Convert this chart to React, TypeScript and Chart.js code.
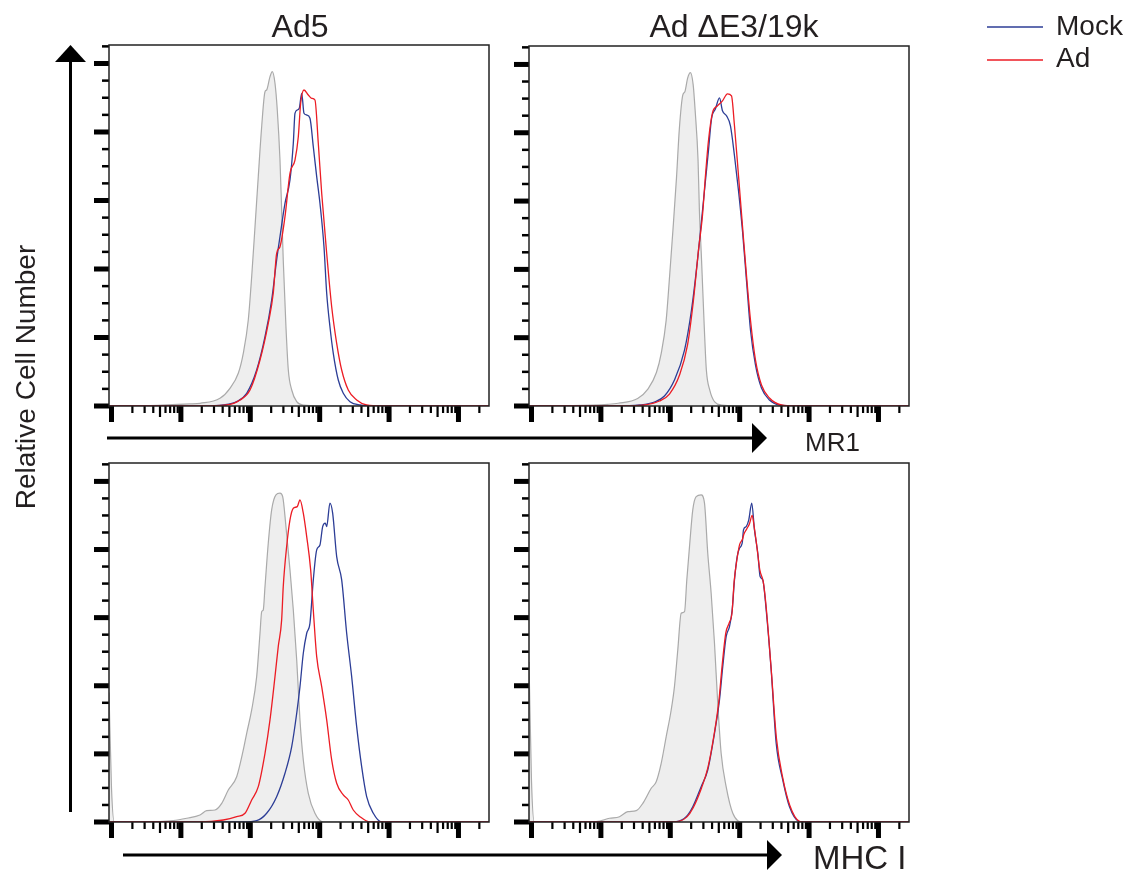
import React, { useEffect, useRef } from 'react';
import { Chart, registerables } from 'chart.js';

Chart.register(...registerables);

// ---------- axis definitions (x = log10 fluorescence decades, y = % of max) ----------
const X_MIN = -0.036;
const X_MAX = 5.44;
const Y_MAX = 105.4;
const decades = [0, 1, 2, 3, 4, 5];
const decadeMultipliers = [1, 2, 3, 4, 5, 6, 7, 8, 9];
const yTickValues = [0, 5, 10, 15, 20, 25, 30, 35, 40, 45, 50, 55, 60, 65, 70, 75, 80, 85, 90, 95, 100, 105];
const yMajorTicks = [0, 20, 40, 60, 80, 100];

const columnTitles = ['Ad5', 'Ad ΔE3/19k'];
const rowMarkers = ['MR1', 'MHC I'];
const seriesNames = ['Mock', 'Ad'];
const yAxisTitle = 'Relative Cell Number';

// ---------- MR1 / Ad5 ----------
const mr1Ad5IsoX = [-0.036, 0.55, 1.13, 1.275, 1.563, 1.707, 1.827, 1.899, 1.971, 2.02, 2.068, 2.115, 2.164, 2.212, 2.236, 2.284, 2.317, 2.356, 2.389, 2.428, 2.452, 2.475, 2.514, 2.548, 2.597, 2.669, 2.764, 3.29, 5.44];
const mr1Ad5IsoY = [0, 0.1, 0.6, 0.79, 2.25, 5.17, 9.55, 15.39, 25.11, 37.75, 52.35, 66.95, 81.55, 91.77, 92.26, 96.15, 97.61, 94.22, 86.42, 71.82, 57.23, 42.63, 23.15, 10.51, 4.67, 1.26, 0.29, 0, 0];
const mr1Ad5MockX = [-0.036, 1.3, 1.611, 1.804, 1.948, 2.092, 2.212, 2.308, 2.38, 2.428, 2.5, 2.572, 2.62, 2.644, 2.677, 2.706, 2.741, 2.774, 2.813, 2.86, 2.908, 2.957, 3.004, 3.062, 3.101, 3.148, 3.196, 3.268, 3.34, 3.437, 3.581, 3.8, 5.44];
const mr1Ad5MockY = [0, 0, 0.29, 1.26, 3.71, 10.51, 20.23, 30.95, 42.63, 49.43, 59.18, 65.99, 76.7, 85.46, 86.42, 86.92, 91.3, 85.46, 84.96, 84.0, 75.71, 66.95, 59.18, 46.51, 32.91, 23.15, 15.39, 7.59, 3.71, 1.26, 0.29, 0, 0];
const mr1Ad5AdX = [-0.036, 1.3, 1.66, 1.852, 1.996, 2.14, 2.259, 2.331, 2.38, 2.428, 2.5, 2.572, 2.644, 2.692, 2.726, 2.774, 2.836, 2.885, 2.932, 2.98, 3.029, 3.101, 3.173, 3.245, 3.317, 3.412, 3.533, 3.677, 3.9, 5.44];
const mr1Ad5AdY = [0, 0, 0.29, 1.75, 4.67, 13.43, 24.15, 32.91, 44.58, 46.51, 55.27, 67.94, 71.82, 78.63, 88.38, 92.26, 90.8, 89.84, 89.34, 76.7, 62.1, 44.58, 28.99, 18.31, 10.51, 4.67, 1.75, 0.29, 0, 0];

// ---------- MR1 / Ad dE3/19k ----------
const mr1DelIsoX = [-0.036, 0.55, 1.1, 1.25, 1.53, 1.68, 1.8, 1.87, 1.94, 1.99, 2.04, 2.09, 2.13, 2.18, 2.21, 2.25, 2.29, 2.33, 2.36, 2.4, 2.42, 2.45, 2.49, 2.52, 2.57, 2.64, 2.74, 3.2, 5.44];
const mr1DelIsoY = [0, 0.1, 0.5, 0.8, 2.2, 5.0, 9.8, 15.5, 25, 38, 52, 67, 81, 91, 92, 96, 97.6, 94, 86, 72, 57, 43, 23, 10.5, 4.6, 1.2, 0.3, 0, 0];
const mr1DelMockX = [-0.036, 1.2, 1.556, 1.772, 1.916, 2.06, 2.205, 2.305, 2.392, 2.45, 2.507, 2.55, 2.594, 2.651, 2.709, 2.752, 2.81, 2.867, 2.925, 2.983, 3.04, 3.098, 3.156, 3.228, 3.314, 3.429, 3.573, 3.8, 5.44];
const mr1DelMockY = [0, 0, 0.29, 1.17, 2.92, 7.59, 16.35, 28.03, 42.63, 54.31, 65.99, 74.74, 84.09, 87.01, 90.22, 86.42, 84.96, 82.04, 73.28, 63.07, 51.39, 36.79, 22.19, 11.97, 5.26, 1.75, 0.29, 0, 0];
const mr1DelAdX = [-0.036, 1.3, 1.628, 1.844, 1.988, 2.133, 2.248, 2.334, 2.406, 2.464, 2.507, 2.55, 2.608, 2.68, 2.752, 2.824, 2.882, 2.925, 2.983, 3.04, 3.098, 3.156, 3.228, 3.314, 3.429, 3.602, 3.8, 5.44];
const mr1DelAdY = [0, 0, 0.29, 1.46, 3.5, 9.05, 17.81, 30.95, 45.55, 55.77, 67.45, 77.66, 85.84, 87.88, 89.34, 91.39, 90.8, 82.04, 67.45, 52.85, 38.25, 25.11, 13.43, 6.13, 2.34, 0.29, 0, 0];

// ---------- MHC I / Ad5 ----------
const mhcAd5IsoX = [-0.036, 0.0, 0.04, 0.458, 0.89, 1.084, 1.275, 1.372, 1.491, 1.588, 1.683, 1.804, 1.899, 1.948, 2.02, 2.092, 2.14, 2.164, 2.187, 2.212, 2.259, 2.308, 2.37, 2.428, 2.467, 2.514, 2.572, 2.62, 2.669, 2.716, 2.764, 2.836, 2.932, 3.052, 5.44];
const mhcAd5IsoY = [38, 10, 0, 0, 0.38, 1.09, 2.06, 3.32, 3.52, 5.49, 9.4, 13.3, 21.15, 26.05, 32.89, 42.67, 55.42, 61.76, 62.26, 69.1, 81.85, 91.63, 96.04, 96.54, 95.54, 86.73, 74.01, 62.26, 47.58, 29.96, 18.21, 8.43, 2.56, 0, 0];
const mhcAd5MockX = [-0.036, 1.899, 2.092, 2.236, 2.38, 2.5, 2.597, 2.669, 2.716, 2.764, 2.813, 2.86, 2.908, 2.957, 3.004, 3.043, 3.081, 3.101, 3.148, 3.187, 3.245, 3.317, 3.389, 3.461, 3.533, 3.605, 3.677, 3.773, 3.893, 5.44];
const mhcAd5MockY = [0, 0, 0.38, 2.56, 7.43, 14.3, 22.11, 31.92, 39.74, 49.54, 55.42, 58.36, 71.07, 79.88, 81.35, 86.73, 87.72, 86.73, 93.6, 90.66, 77.92, 71.07, 55.42, 42.67, 27.99, 16.24, 7.43, 2.56, 0, 0];
const mhcAd5AdX = [-0.036, 1.275, 1.611, 1.804, 1.924, 2.02, 2.115, 2.212, 2.284, 2.356, 2.403, 2.452, 2.475, 2.524, 2.572, 2.62, 2.677, 2.716, 2.764, 2.813, 2.87, 2.908, 2.957, 3.029, 3.101, 3.173, 3.245, 3.34, 3.412, 3.484, 3.581, 3.725, 5.44];
const mhcAd5AdY = [0, 0, 0.59, 1.56, 2.56, 6.46, 10.37, 20.18, 29.96, 42.67, 51.48, 59.33, 69.1, 80.85, 88.69, 92.13, 92.6, 94.57, 90.66, 83.79, 74.01, 62.26, 48.55, 39.74, 29.96, 18.21, 11.37, 7.93, 6.46, 3.52, 1.56, 0, 0];

// ---------- MHC I / Ad dE3/19k ----------
const mhcDelIsoX = [-0.036, 0.0, 0.04, 0.5, 0.932, 1.124, 1.268, 1.388, 1.509, 1.604, 1.725, 1.797, 1.869, 1.941, 2.013, 2.06, 2.108, 2.157, 2.205, 2.238, 2.277, 2.324, 2.373, 2.445, 2.493, 2.54, 2.589, 2.637, 2.684, 2.733, 2.805, 2.901, 3.045, 5.44];
const mhcDelIsoY = [47, 12, 0, 0, 0.1, 1.09, 1.56, 3.02, 3.32, 5.49, 9.9, 11.84, 17.24, 25.05, 32.89, 39.74, 50.51, 61.29, 61.76, 71.07, 80.85, 91.63, 95.54, 96.04, 93.6, 78.91, 67.17, 52.48, 34.86, 20.18, 10.37, 2.56, 0, 0];
const mhcDelMockX = [-0.036, 1.941, 2.085, 2.229, 2.324, 2.445, 2.54, 2.637, 2.709, 2.756, 2.805, 2.853, 2.892, 2.925, 2.964, 2.997, 3.036, 3.055, 3.094, 3.131, 3.174, 3.213, 3.261, 3.295, 3.333, 3.382, 3.454, 3.526, 3.621, 3.718, 3.862, 3.909, 5.44];
const mhcDelMockY = [0, 0, 0.09, 1.56, 4.49, 10.37, 15.27, 26.05, 35.83, 45.61, 54.42, 57.36, 62.26, 71.07, 77.92, 80.38, 81.85, 85.76, 86.73, 88.69, 93.6, 85.76, 78.91, 72.04, 71.07, 62.26, 44.64, 23.11, 12.33, 4.49, 0.09, 0, 0];
const mhcDelAdX = [-0.036, 1.97, 2.1, 2.24, 2.33, 2.45, 2.54, 2.63, 2.7, 2.75, 2.8, 2.85, 2.89, 2.92, 2.96, 3.0, 3.04, 3.06, 3.1, 3.14, 3.18, 3.21, 3.25, 3.29, 3.34, 3.38, 3.45, 3.53, 3.62, 3.72, 3.86, 3.93, 5.44];
const mhcDelAdY = [0, 0, 0.1, 1.5, 4.2, 10.0, 15.8, 25.5, 35.5, 46.5, 55.5, 58.5, 61.5, 70.5, 77.0, 81.5, 83.0, 84.5, 86.0, 87.5, 90.0, 86.5, 80.5, 74.0, 70.5, 63.5, 46.0, 24.5, 13.0, 5.0, 0.2, 0, 0];

// ---------- styling ----------
const ISO_LINE = '#aaaaaa';
const ISO_FILL = '#eeeeee';
const MOCK_COLOR = '#2c3d96';
const AD_COLOR = '#ec1c24';
const INK = '#231f20';
const FONT = '"Liberation Sans", Arial, Helvetica, sans-serif';

const PAD_L = 20;
const PAD_T = 5;
const PAD_R = 5;
const PAD_B = 22;

const toPoints = (xs: number[], ys: number[]) => xs.map((x, i) => ({ x, y: ys[i] }));

const frameTicksPlugin = {
  id: 'frameTicks',
  afterDraw(chart: any) {
    const { ctx, chartArea: a, scales } = chart;
    const xs = scales.x;
    const ys = scales.y;
    ctx.save();
    ctx.fillStyle = '#000';
    yTickValues.forEach((v) => {
      const py = ys.getPixelForValue(v);
      const major = yMajorTicks.includes(v);
      const len = major ? 15 : 7;
      const w = major ? 5 : 2.5;
      ctx.fillRect(a.left - len, py - w / 2, len, w);
    });
    decades.forEach((d) => {
      decadeMultipliers.forEach((m) => {
        const v = d + Math.log10(m);
        if (v < X_MIN || v > X_MAX) return;
        const px = xs.getPixelForValue(v);
        const len = m === 1 ? 16 : m === 5 ? 11 : 7;
        const w = m === 1 ? 5 : 2.2;
        ctx.fillRect(px - w / 2, a.bottom, w, len);
      });
    });
    ctx.strokeStyle = '#222';
    ctx.lineWidth = 1.5;
    ctx.strokeRect(a.left, a.top, a.right - a.left, a.bottom - a.top);
    ctx.restore();
  },
};

type PanelProps = {
  left: number;
  top: number;
  w: number;
  h: number;
  iso: [number[], number[]];
  mock: [number[], number[]];
  ad: [number[], number[]];
};

function Panel({ left, top, w, h, iso, mock, ad }: PanelProps) {
  const ref = useRef<HTMLCanvasElement>(null);
  const cw = w + PAD_L + PAD_R;
  const ch = h + PAD_T + PAD_B;
  useEffect(() => {
    const chart = new Chart(ref.current as HTMLCanvasElement, {
      type: 'line',
      data: {
        datasets: [
          {
            label: seriesNames[1],
            data: toPoints(ad[0], ad[1]),
            borderColor: AD_COLOR,
            borderWidth: 1.3,
            pointRadius: 0,
            cubicInterpolationMode: 'monotone',
            fill: false,
            order: 1,
          },
          {
            label: seriesNames[0],
            data: toPoints(mock[0], mock[1]),
            borderColor: MOCK_COLOR,
            borderWidth: 1.3,
            pointRadius: 0,
            cubicInterpolationMode: 'monotone',
            fill: false,
            order: 2,
          },
          {
            label: 'Isotype',
            data: toPoints(iso[0], iso[1]),
            borderColor: ISO_LINE,
            backgroundColor: ISO_FILL,
            borderWidth: 1.2,
            pointRadius: 0,
            cubicInterpolationMode: 'monotone',
            fill: 'origin',
            order: 3,
          },
        ],
      } as any,
      options: {
        responsive: false,
        animation: false,
        events: [],
        layout: { padding: { left: PAD_L, top: PAD_T, right: PAD_R, bottom: PAD_B } },
        scales: {
          x: { type: 'linear', min: X_MIN, max: X_MAX, display: false },
          y: { type: 'linear', min: 0, max: Y_MAX, display: false },
        },
        plugins: { legend: { display: false }, tooltip: { enabled: false } },
      },
      plugins: [frameTicksPlugin],
    });
    return () => chart.destroy();
  }, []);
  return (
    <canvas
      ref={ref}
      width={cw}
      height={ch}
      style={{ position: 'absolute', left: left - PAD_L, top: top - PAD_T, width: cw, height: ch }}
    />
  );
}

const textStyle = (size: number): React.CSSProperties => ({
  position: 'absolute',
  fontFamily: FONT,
  fontSize: size,
  lineHeight: `${size}px`,
  height: size,
  color: INK,
  whiteSpace: 'nowrap',
});

export default function App() {
  return (
    <div style={{ position: 'absolute', left: 0, top: 0, width: 1133, height: 872, overflow: 'hidden', background: '#fff' }}>
      <Panel left={109} top={45} w={380} h={361} iso={[mr1Ad5IsoX, mr1Ad5IsoY]} mock={[mr1Ad5MockX, mr1Ad5MockY]} ad={[mr1Ad5AdX, mr1Ad5AdY]} />
      <Panel left={529} top={46} w={380} h={360} iso={[mr1DelIsoX, mr1DelIsoY]} mock={[mr1DelMockX, mr1DelMockY]} ad={[mr1DelAdX, mr1DelAdY]} />
      <Panel left={109} top={463} w={380} h={359} iso={[mhcAd5IsoX, mhcAd5IsoY]} mock={[mhcAd5MockX, mhcAd5MockY]} ad={[mhcAd5AdX, mhcAd5AdY]} />
      <Panel left={529} top={463} w={380} h={359} iso={[mhcDelIsoX, mhcDelIsoY]} mock={[mhcDelMockX, mhcDelMockY]} ad={[mhcDelAdX, mhcDelAdY]} />

      <svg width={1133} height={872} style={{ position: 'absolute', left: 0, top: 0, pointerEvents: 'none' }}>
        <line x1={70.5} y1={812} x2={70.5} y2={60} stroke="#000" strokeWidth={3} />
        <polygon points="55,62 86,62 70.5,45" fill="#000" />
        <line x1={107} y1={438} x2={754} y2={438} stroke="#000" strokeWidth={3} />
        <polygon points="752,423 752,453 767,438" fill="#000" />
        <line x1={123} y1={855} x2={769} y2={855} stroke="#000" strokeWidth={3} />
        <polygon points="767,840 767,870 782,855" fill="#000" />
        <line x1={987} y1={27} x2={1043} y2={27} stroke={MOCK_COLOR} strokeWidth={1.6} />
        <line x1={987} y1={60} x2={1043} y2={60} stroke={AD_COLOR} strokeWidth={1.6} />
      </svg>

      <div style={{ ...textStyle(32), left: 200, top: 10, width: 200, textAlign: 'center' }}>{columnTitles[0]}</div>
      <div style={{ ...textStyle(32), left: 634, top: 10, width: 200, textAlign: 'center' }}>{columnTitles[1]}</div>
      <div style={{ ...textStyle(28), left: 1056, top: 12 }}>{seriesNames[0]}</div>
      <div style={{ ...textStyle(28), left: 1056, top: 44 }}>{seriesNames[1]}</div>
      <div style={{ ...textStyle(26), left: 805, top: 429 }}>{rowMarkers[0]}</div>
      <div style={{ ...textStyle(33), left: 813, top: 841 }}>{rowMarkers[1]}</div>
      <div
        style={{
          ...textStyle(28),
          left: 26 - 200,
          top: 377 - 14,
          width: 400,
          textAlign: 'center',
          transform: 'rotate(-90deg)',
          transformOrigin: '50% 50%',
        }}
      >
        {yAxisTitle}
      </div>
    </div>
  );
}
